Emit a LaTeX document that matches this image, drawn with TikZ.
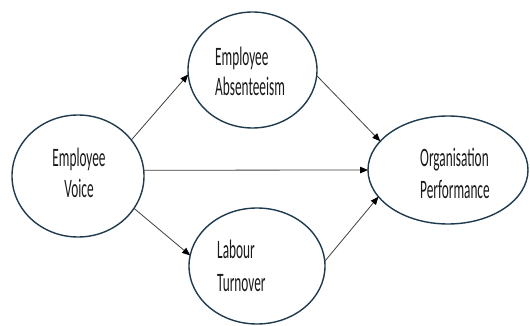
\documentclass[tikz,border=0pt]{standalone}
\usepackage{fontspec}
\usepackage{graphicx}
\setmainfont{Carlito}
\usetikzlibrary{arrows.meta,shapes.geometric}

\definecolor{ringcol}{HTML}{1F3A4D}
\definecolor{linkcol}{HTML}{404040}
\definecolor{inkcol}{HTML}{1A1A1A}

% tall, narrow lettering
\newcommand{\tallword}[1]{\scalebox{1}[2.0]{#1}}

\tikzset{
  blob/.style={ellipse, draw=ringcol, line width=1.4pt, inner sep=0pt, outer sep=0pt},
  label line/.style={inner sep=0pt, text=inkcol, font=\fontsize{13.3}{16}\selectfont},
  link/.style={draw=linkcol, line width=0.8pt,
    -{Triangle[length=8pt,width=6.5pt,color=black]}}
}

\begin{document}
\begin{tikzpicture}[x=1pt,y=-1pt]
\useasboundingbox (0,0) rectangle (530,326);

% the four constructs
\node[blob, minimum width=132pt, minimum height=122pt] (voice) at (78,176) {};
\node[blob, minimum width=129pt, minimum height=116pt] (absent) at (252.5,70) {};
\node[blob, minimum width=136pt, minimum height=116pt] (turn) at (257,266) {};
\node[blob, minimum width=160pt, minimum height=108pt] (perf) at (448,170) {};

% their labels
\node[label line, anchor=base] (voiceA) at (79,166.7) {\tallword{Employee}};
\node[label line, anchor=base] (voiceB) at (79,197.3) {\tallword{Voice}};
\node[label line, anchor=base west] (absentA) at (215,66) {\tallword{Employee}};
\node[label line, anchor=base west] (absentB) at (215,96) {\tallword{Absenteeism}};
\node[label line, anchor=base west] (turnA) at (217,258) {\tallword{Labour}};
\node[label line, anchor=base west] (turnB) at (217,291) {\tallword{Turnover}};
\node[label line, anchor=base west] (perfA) at (420,166.5) {\tallword{Organisation}};
\node[label line, anchor=base west] (perfB) at (420,198) {\tallword{Performance}};

% paths between constructs
\draw[link] (voice.34) -- (absent.184);
\draw[link] (voice.330) -- (turn.171);
\draw[link] (voice.5) -- (perf.180);
\draw[link] (absent.355) -- (perf.157);
\draw[link] (turn.4) -- (perf.201);
\end{tikzpicture}
\end{document}
